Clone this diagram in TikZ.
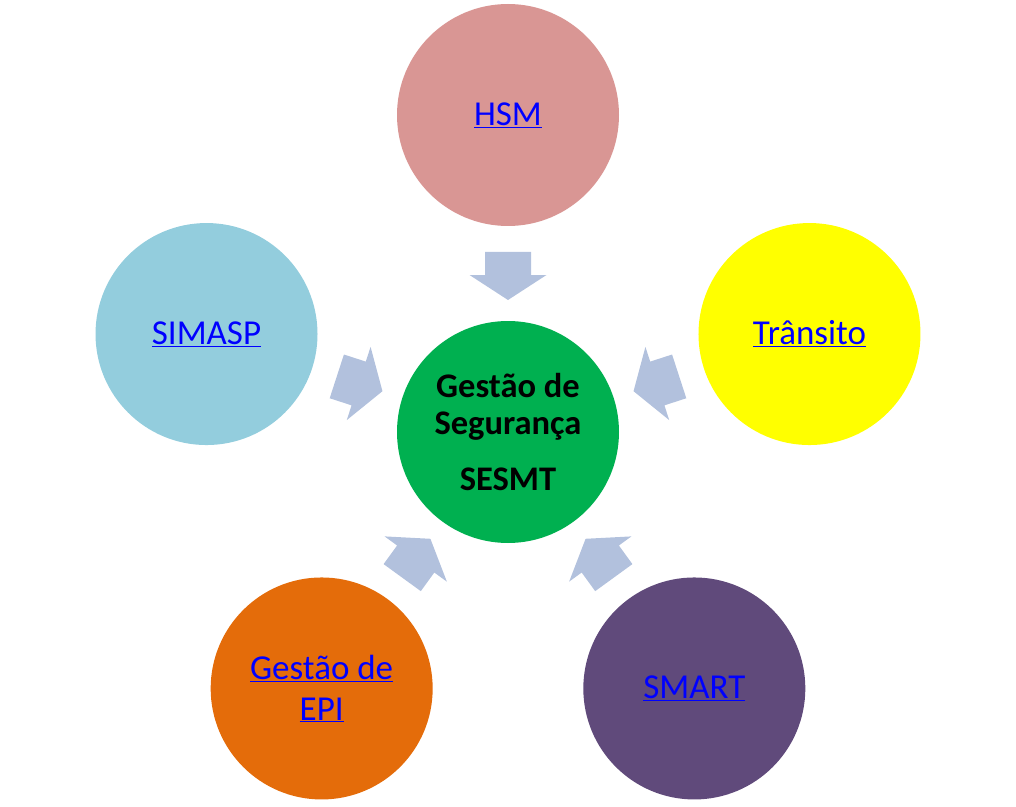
\documentclass[tikz,border=0pt]{standalone}
\usepackage{fontspec}
\setmainfont{Carlito}
\definecolor{hsmc}{HTML}{D99694}
\definecolor{simc}{HTML}{93CDDD}
\definecolor{trac}{HTML}{FFFF00}
\definecolor{epic}{HTML}{E46C0A}
\definecolor{smac}{HTML}{604A7B}
\definecolor{cenc}{HTML}{00B050}
\definecolor{arrc}{HTML}{B2C1DD}
\definecolor{linkc}{HTML}{0000FF}
\begin{document}
\begin{tikzpicture}[x=1pt,y=1pt,
  bub/.style={circle,minimum size=222pt,inner sep=0pt,draw=none,align=center,
    font=\fontsize{35}{41}\selectfont,text=linkc},
  blockarrow/.style={fill=arrc,draw=none}]
\useasboundingbox (-508,-374) rectangle (508,432);
\node[bub,fill=cenc,text=black,font=\fontsize{34.5}{37}\selectfont\bfseries] (c) at (0,0)
  {Gestão de\\Segurança\\[19pt]SESMT};
\node[bub,fill=hsmc] (hsm) at (90:317) {\underline{HSM}};
\node[bub,fill=simc] (sim) at (162:317) {\underline{SIMASP}};
\node[bub,fill=epic] (epi) at (234:317) {\underline{Gestão de}\\\underline{EPI}};
\node[bub,fill=smac] (sma) at (306:317) {\underline{SMART}};
\node[bub,fill=trac] (tra) at (18:317) {\underline{Trânsito}};
\foreach \a in {90,162,234,306,18}{
  \begin{scope}[rotate=\a-90]
    \fill[blockarrow] (-23,180) -- (23,180) -- (23,157) -- (38.5,157) -- (0,132)
      -- (-38.5,157) -- (-23,157) -- cycle;
  \end{scope}
}
\end{tikzpicture}
\end{document}
